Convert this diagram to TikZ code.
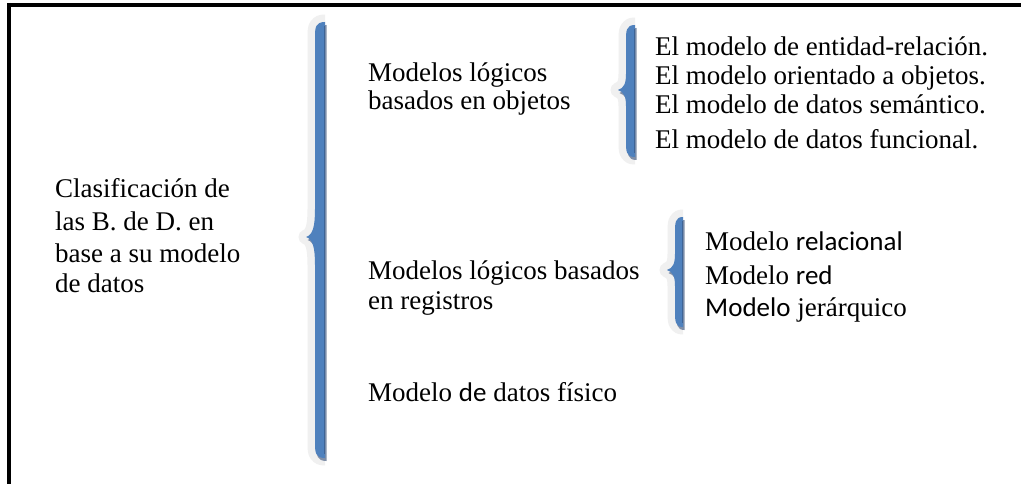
\documentclass[tikz,border=0pt]{standalone}
\usepackage{fontspec}
\setmainfont{Liberation Serif}
\newfontfamily\calfont{Carlito}
\definecolor{braceblue}{RGB}{79,129,189}
\definecolor{bracedark}{RGB}{62,100,150}
\definecolor{braceshadow}{RGB}{128,143,168}
\definecolor{bracehalo}{RGB}{240,240,240}
% #1 right x, #2 bar left x, #3 top, #4 middle, #5 bottom, #6 tip x, #7 tip curve length
\newcommand{\bracepath}[7]{(#1,#3) .. controls (#2,#3) and (#2,#3+6) .. (#2,#3+16) -- (#2,#4-#7) .. controls (#2,#4-#7*0.4) and (#2-2,#4-2) .. (#6,#4) .. controls (#2-2,#4+2) and (#2,#4+#7*0.4) .. (#2,#4+#7) -- (#2,#5-16) .. controls (#2,#5-6) and (#2,#5) .. (#1,#5) -- cycle}
\newcommand{\bracefig}[7]{%
  \begin{scope}
    \clip (#6-20,#3-20) rectangle (#1,#5+20);
    \draw[bracehalo, line width=15pt, line join=round] \bracepath{#1}{#2}{#3}{#4}{#5}{#6}{#7};
  \end{scope}
  \fill[braceshadow, shift={(1.5,3)}] \bracepath{#1}{#2}{#3}{#4}{#5}{#6}{#7};
  \fill[braceblue] \bracepath{#1}{#2}{#3}{#4}{#5}{#6}{#7};
  \draw[bracedark, line width=1.5pt] (#1-0.75,#3+4) -- (#1-0.75,#5-4);
}
\tikzset{
  txt/.style={anchor=base west, inner sep=0pt, font=\fontsize{27}{31}\selectfont},
  frameline/.style={line width=4pt, black}
}
\begin{document}
\begin{tikzpicture}[x=1pt,y=-1pt]
\useasboundingbox (0,0) rectangle (1021,484);
\fill[white] (0,0) rectangle (1021,484);
% frame
\coordinate (ftl) at (7,5);
\coordinate (ftr) at (1021,5);
\coordinate (fbl) at (9,484);
\draw[frameline] (ftl) -- (ftr);
\draw[frameline] (9,3) -- (fbl);
% braces
\bracefig{325}{315}{22}{237}{458}{306}{28}
\bracefig{635}{626}{25}{90}{157}{618}{16}
\bracefig{683}{675}{217}{270}{327}{667}{16}
% left text
\node[txt] (c1) at (55,197) {Clasificación de};
\node[txt] (c2) at (55,230) {las B. de D. en};
\node[txt] (c3) at (55,262) {base a su modelo};
\node[txt] (c4) at (55,292) {de datos};
% middle
\node[txt] (m1) at (368,82) {Modelos lógicos};
\node[txt] (m2) at (368,110) {basados en objetos};
\node[txt] (r1) at (368,279) {Modelos lógicos basados};
\node[txt] (r2) at (368,309) {en registros};
\node[txt] (f1) at (368,401) {Modelo {\calfont de} datos físico};
% right lists
\node[txt] (o1) at (655,56) {El modelo de entidad-relación.};
\node[txt] (o2) at (655,85) {El modelo orientado a objetos.};
\node[txt] (o3) at (655,114) {El modelo de datos semántico.};
\node[txt] (o4) at (655,149) {El modelo de datos funcional.};
\node[txt] (g1) at (705,251) {Modelo {\calfont relacional}};
\node[txt] (g2) at (705,284) {Modelo {\calfont red}};
\node[txt] (g3) at (705,316) {{\calfont Modelo} jerárquico};
\end{tikzpicture}
\end{document}
